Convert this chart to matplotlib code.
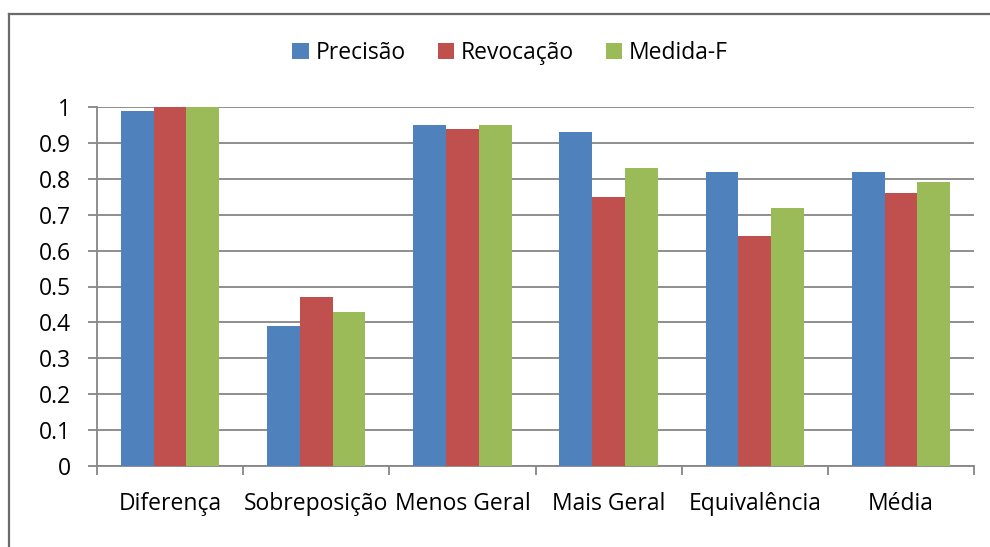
import matplotlib
matplotlib.use('Agg')
import matplotlib.pyplot as plt
import numpy as np
from matplotlib.lines import Line2D

categories = ['Diferença', 'Sobreposição', 'Menos Geral', 'Mais Geral', 'Equivalência', 'Média']
precisao = [0.99, 0.39, 0.95, 0.93, 0.82, 0.82]
revocacao = [1.0, 0.47, 0.94, 0.75, 0.64, 0.76]
medida_f = [1.0, 0.43, 0.95, 0.83, 0.72, 0.79]
series_names = ['Precisão', 'Revocação', 'Medida-F']
colors = ['#4F81BD', '#C0504D', '#9BBB59']
yticks = [0, 0.1, 0.2, 0.3, 0.4, 0.5, 0.6, 0.7, 0.8, 0.9, 1]

plt.rcParams['font.family'] = ['Open Sans', 'DejaVu Sans']
plt.rcParams['font.size'] = 16.5

W, H = 990, 547
fig = plt.figure(figsize=(W / 100, H / 100), dpi=100)
ax = fig.add_axes([97 / W, 1 - 466 / H, (974 - 97) / W, (466 - 107) / H])

gray = '#868686'
x = np.arange(len(categories))
width = 0.224
for i, (vals, name, c) in enumerate(zip([precisao, revocacao, medida_f], series_names, colors)):
    ax.bar(x + (i - 1) * width, vals, width, color=c, label=name, zorder=3)

ax.set_xlim(-0.5, len(categories) - 0.5)
ax.set_ylim(0, 1)
ax.set_yticks(yticks)
ax.set_yticklabels(['%g' % v for v in yticks])
ax.yaxis.grid(True, color=gray, linewidth=1.3, zorder=0)

# category boundaries as ticks, labels on minor ticks
ax.set_xticks(np.arange(-0.5, len(categories), 1))
ax.set_xticklabels([])
ax.set_xticks(x, minor=True)
ax.set_xticklabels(categories, minor=True)
ax.tick_params(axis='x', which='major', length=6.5, width=1.3, color=gray, direction='out')
ax.tick_params(axis='x', which='minor', length=0, pad=19)
ax.tick_params(axis='y', length=6.5, width=1.3, color=gray, pad=12)

for s in ['top', 'right']:
    ax.spines[s].set_visible(False)
for s in ['left', 'bottom']:
    ax.spines[s].set_color(gray)
    ax.spines[s].set_linewidth(1.3)

fig.legend(loc='center', bbox_to_anchor=(510 / W, 1 - 53 / H), ncol=3, frameon=False,
           handlelength=0.7, handleheight=0.7, handletextpad=0.3, columnspacing=1.4)

# outer chart border (only top and left visible)
bc = '#6B6B6B'
fig.add_artist(Line2D([8.5 / W, 1], [1 - 13.5 / H, 1 - 13.5 / H], color=bc, linewidth=1.6))
fig.add_artist(Line2D([8.5 / W, 8.5 / W], [0, 1 - 13.5 / H], color=bc, linewidth=1.6))

fig.savefig('out.png', dpi=100)
